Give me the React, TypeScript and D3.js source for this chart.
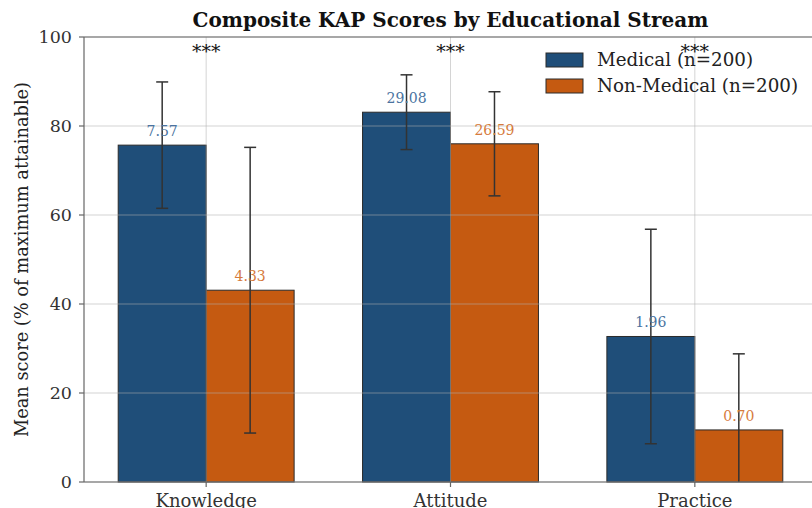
import React from "react";
import * as d3 from "d3";

const categories = ["Knowledge", "Attitude", "Practice"];
const seriesNames = ["Medical (n=200)", "Non-Medical (n=200)"];
const medicalMeans = [75.7, 83.1, 32.7];
const medicalSD = [14.2, 8.4, 24.1];
const nonMedicalMeans = [43.1, 76.0, 11.7];
const nonMedicalSD = [32.1, 11.7, 17.1];
const medicalLabels = ["7.57", "29.08", "1.96"];
const nonMedicalLabels = ["4.33", "26.59", "0.70"];
const sigLabels = ["***", "***", "***"];
const yTicks = [0, 20, 40, 60, 80, 100];

const colors = ["#1f4e79", "#c55a11"];
const labelColors = ["#4a73a0", "#d67b3c"];

export default function App() {
  const W = 812, H = 508;
  const left = 84, right = 817, top = 37, bottom = 482;
  const font = "'DejaVu Serif', serif";
  const x = d3.scaleLinear().domain([-0.5, 2.5]).range([left, right]);
  const y = d3.scaleLinear().domain([0, 100]).range([bottom, top]);
  const bw = 0.36;
  const series = [
    { means: medicalMeans, sd: medicalSD, labels: medicalLabels, off: -bw / 2 },
    { means: nonMedicalMeans, sd: nonMedicalSD, labels: nonMedicalLabels, off: bw / 2 },
  ];
  const barW = x(bw) - x(0);
  return (
    <svg width={W} height={H} style={{ position: "absolute", left: 0, top: 0, background: "#fff" }}>
      <defs>
        <clipPath id="plot">
          <rect x={left} y={top} width={right - left} height={bottom - top} />
        </clipPath>
      </defs>
      {/* bars */}
      {series.map((s, si) =>
        s.means.map((m, i) => (
          <rect
            key={`b${si}-${i}`}
            x={x(i + s.off) - barW / 2}
            y={y(m)}
            width={barW}
            height={y(0) - y(m)}
            fill={colors[si]}
            stroke="#2b2b2b"
            strokeWidth={1}
          />
        ))
      )}
      {/* grid over bars */}
      <g stroke="#b0b0b0" strokeOpacity={0.55} strokeWidth={1}>
        {yTicks.map((t) => (
          <line key={`gy${t}`} x1={left} x2={right} y1={y(t)} y2={y(t)} />
        ))}
        {categories.map((c, i) => (
          <line key={`gx${i}`} x1={x(i)} x2={x(i)} y1={top} y2={bottom} />
        ))}
      </g>
      {/* error bars */}
      <g clipPath="url(#plot)" stroke="#333" strokeWidth={1.5}>
        {series.map((s, si) =>
          s.means.map((m, i) => {
            const cx = x(i + s.off);
            const y1 = y(m + s.sd[i]);
            const y2 = y(m - s.sd[i]);
            return (
              <g key={`e${si}-${i}`}>
                <line x1={cx} x2={cx} y1={y1} y2={y2} />
                <line x1={cx - 6} x2={cx + 6} y1={y1} y2={y1} />
                <line x1={cx - 6} x2={cx + 6} y1={y2} y2={y2} />
              </g>
            );
          })
        )}
      </g>
      {/* value labels */}
      {series.map((s, si) =>
        s.means.map((m, i) => (
          <text
            key={`l${si}-${i}`}
            x={x(i + s.off)}
            y={y(m) - 9}
            textAnchor="middle"
            fontFamily={font}
            fontSize={14}
            fill={labelColors[si]}
          >
            {s.labels[i]}
          </text>
        ))
      )}
      {/* significance */}
      {sigLabels.map((t, i) => (
        <text key={`s${i}`} x={x(i)} y={58} textAnchor="middle" fontFamily={font} fontSize={19} fill="#111">
          {t}
        </text>
      ))}
      {/* spines */}
      <g stroke="#666" strokeWidth={1.2}>
        <line x1={left} x2={left} y1={top} y2={bottom} />
        <line x1={left} x2={right} y1={bottom} y2={bottom} />
        <line x1={left} x2={right} y1={top} y2={top} />
      </g>
      {/* y ticks */}
      {yTicks.map((t) => (
        <g key={`yt${t}`}>
          <line x1={left - 5} x2={left} y1={y(t)} y2={y(t)} stroke="#666" strokeWidth={1.2} />
          <text x={left - 12} y={y(t)} dy="0.35em" textAnchor="end" fontFamily={font} fontSize={17.5} fill="#333">
            {t}
          </text>
        </g>
      ))}
      {/* x ticks */}
      {categories.map((c, i) => (
        <g key={`xt${i}`}>
          <line x1={x(i)} x2={x(i)} y1={bottom} y2={bottom + 5} stroke="#666" strokeWidth={1.2} />
          <text x={x(i)} y={bottom + 25} textAnchor="middle" fontFamily={font} fontSize={18} fill="#333">
            {c}
          </text>
        </g>
      ))}
      {/* y label */}
      <text
        transform={`translate(28,${(top + bottom) / 2}) rotate(-90)`}
        textAnchor="middle"
        fontFamily={font}
        fontSize={17.8}
        fill="#222"
      >
        Mean score (% of maximum attainable)
      </text>
      {/* title */}
      <text x={(left + right) / 2} y={27} textAnchor="middle" fontFamily={font} fontSize={20} fontWeight="bold" fill="#111">
        Composite KAP Scores by Educational Stream
      </text>
      {/* legend */}
      {seriesNames.map((n, i) => (
        <g key={`lg${i}`}>
          <rect x={546} y={53 + i * 26} width={37} height={14} fill={colors[i]} stroke="#2b2b2b" strokeWidth={1} />
          <text x={597} y={60 + i * 26} dy="0.35em" fontFamily={font} fontSize={18.3} fill="#222">
            {n}
          </text>
        </g>
      ))}
    </svg>
  );
}
